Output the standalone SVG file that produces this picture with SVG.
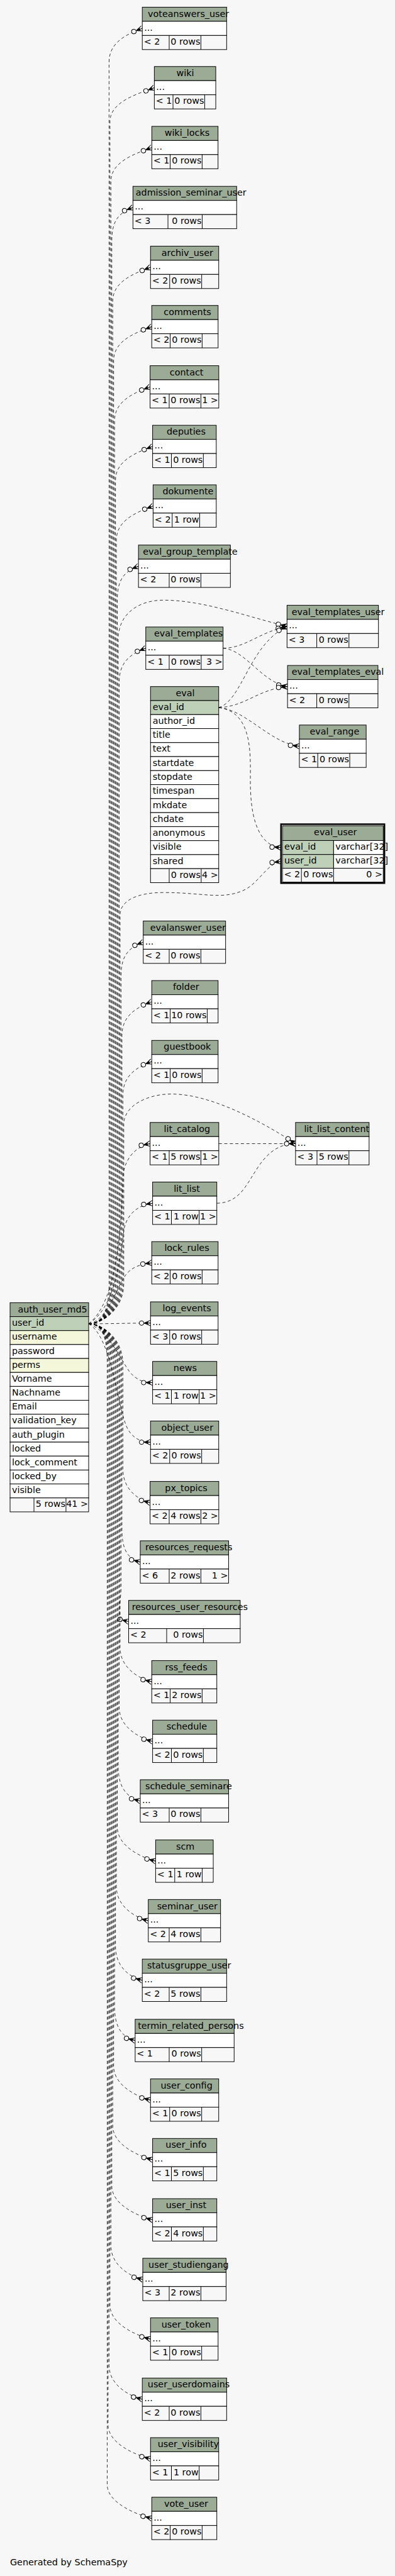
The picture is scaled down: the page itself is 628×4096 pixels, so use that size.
<svg xmlns="http://www.w3.org/2000/svg" width="628" height="4096" viewBox="0 0 628 4096">
<style>
.h{fill:#9bab96;stroke:#000;stroke-width:1}
.r{fill:#fff;stroke:#000;stroke-width:1}
.pk{fill:#bed1b8;stroke:#000;stroke-width:1}
.ix{fill:#f4f7da;stroke:#000;stroke-width:1}
.f{fill:#f7f7f7;stroke:#000;stroke-width:1}
.d{fill:none;stroke:#000;stroke-width:1}
text{font-family:"DejaVu Sans","Liberation Sans",sans-serif;font-size:14.67px;fill:#000}
.c{text-anchor:middle}
.e{text-anchor:end}
.l{fill:none;stroke:#000;stroke-width:0.8;stroke-dasharray:5,4;marker-end:url(#cf)}
</style>
<defs>
<marker id="cf" markerUnits="userSpaceOnUse" orient="auto" viewBox="-20 -7 22 14" markerWidth="22" markerHeight="14" refX="0" refY="0" overflow="visible">
<path d="M-10.5,0L0,-4.5M-10.5,0L0,4.5M-10.5,0L0,0" fill="none" stroke="#000" stroke-width="1"/>
<path d="M-10.5,0L-3,-2.8L-4.5,0L-3,2.8Z" fill="#000"/>
<circle cx="-14.6" cy="0" r="3.7" fill="#f7f7f7" stroke="#000" stroke-width="1"/>
</marker>
</defs>
<rect x="0" y="0" width="628" height="4096" fill="#f7f7f7"/>
<g transform="scale(0.97674)">
<g id="connectors">
<path class="l" d="M144.3,2155C168,2155 177.5,2130 177.5,2090L177.5,101.2C177.5,68.2 207.6,55.2 231.6,46.2"/>
<path class="l" d="M144.3,2155C168,2155 179,2130 179,2090L179,197.8C179,164.8 227.2,151.8 251.2,142.8"/>
<path class="l" d="M144.3,2155C168,2155 180.5,2130 180.5,2090L180.5,295.2C180.5,262.2 223.1,249.2 247.1,240.2"/>
<path class="l" d="M144.3,2155C168,2155 182,2130 182,2090L182,392.8C182,359.8 192.4,346.8 216.4,337.8"/>
<path class="l" d="M144.3,2155C168,2155 183.5,2130 183.5,2090L183.5,490.2C183.5,457.2 221,444.2 245,435.2"/>
<path class="l" d="M144.3,2155C168,2155 185,2130 185,2090L185,586.8C185,553.8 223,540.8 247,531.8"/>
<path class="l" d="M144.3,2155C168,2155 186.5,2130 186.5,2090L186.5,684.8C186.5,651.8 220.3,638.8 244.3,629.8"/>
<path class="l" d="M144.3,2155C168,2155 188,2130 188,2090L188,781.8C188,748.8 224.4,735.8 248.4,726.8"/>
<path class="l" d="M144.3,2155C168,2155 189.5,2130 189.5,2090L189.5,878.8C189.5,845.8 225.2,832.8 249.2,823.8"/>
<path class="l" d="M144.3,2155C168,2155 191,2130 191,2090L191,976.8C191,943.8 201.4,930.8 225.4,921.8"/>
<path class="l" d="M144.3,2155C168,2155 194,2130 194,2090L194,1110.2C194,1077.2 213.3,1064.2 237.3,1055.2"/>
<path class="l" d="M144.3,2155C168,2155 197,2130 197,2090L197,1588.8C197,1555.8 209.2,1542.8 233.2,1533.8"/>
<path class="l" d="M144.3,2155C168,2155 198.5,2130 198.5,2090L198.5,1685.8C198.5,1652.8 223,1639.8 247,1630.8"/>
<path class="l" d="M144.3,2155C168,2155 200,2130 200,2090L200,1783.2C200,1750.2 223,1737.2 247,1728.2"/>
<path class="l" d="M144.3,2155C190,2120 198,2000 200,1915C203,1885 222,1866 244.3,1861.8"/>
<path class="l" d="M144.3,2155C185,2130 195,2060 202,2000C208,1975 225,1962 248.4,1958.8"/>
<path class="l" d="M144.3,2155C175,2150 190,2095 205,2075C215,2062 230,2058 247,2055.8"/>
<path class="l" d="M144.3,2155C180,2155 210,2154 245,2153.8"/>
<path class="l" d="M144.3,2155C175,2165 195,2210 210,2232C220,2245 232,2250.8 248.4,2250.8"/>
<path class="l" d="M144.3,2155C180,2175 190,2280 205,2320C213,2340 228,2347.8 245,2347.8"/>
<path class="l" d="M144.3,2155C168,2155 200,2180 200,2220L200,2391.2C200,2421.2 220.3,2440.2 244.3,2446.2"/>
<path class="l" d="M144.3,2155C168,2155 198.5,2180 198.5,2220L198.5,2487.8C198.5,2517.8 204.3,2536.8 228.3,2542.8"/>
<path class="l" d="M144.3,2155C168,2155 197,2180 197,2220L197,2584.8C197,2614.8 185.4,2633.8 209.4,2639.8"/>
<path class="l" d="M144.3,2155C168,2155 195.5,2180 195.5,2220L195.5,2682.8C195.5,2712.8 223,2731.8 247,2737.8"/>
<path class="l" d="M144.3,2155C168,2155 194,2180 194,2220L194,2779.8C194,2809.8 224.4,2828.8 248.4,2834.8"/>
<path class="l" d="M144.3,2155C168,2155 192.5,2180 192.5,2220L192.5,2876.8C192.5,2906.8 204.3,2925.8 228.3,2931.8"/>
<path class="l" d="M144.3,2155C168,2155 191,2180 191,2220L191,2974.8C191,3004.8 229.3,3023.8 253.3,3029.8"/>
<path class="l" d="M144.3,2155C168,2155 189.5,2180 189.5,2220L189.5,3071.8C189.5,3101.8 217.4,3120.8 241.4,3126.8"/>
<path class="l" d="M144.3,2155C168,2155 188,2180 188,2220L188,3168.8C188,3198.8 207.6,3217.8 231.6,3223.8"/>
<path class="l" d="M144.3,2155C168,2155 186.5,2180 186.5,2220L186.5,3266.8C186.5,3296.8 196,3315.8 220,3321.8"/>
<path class="l" d="M144.3,2155C168,2155 185,2180 185,2220L185,3363.8C185,3393.8 221,3412.8 245,3418.8"/>
<path class="l" d="M144.3,2155C168,2155 183.5,2180 183.5,2220L183.5,3460.8C183.5,3490.8 224.4,3509.8 248.4,3515.8"/>
<path class="l" d="M144.3,2155C168,2155 182,2180 182,2220L182,3558.8C182,3588.8 224.4,3607.8 248.4,3613.8"/>
<path class="l" d="M144.3,2155C168,2155 180.5,2180 180.5,2220L180.5,3655.8C180.5,3685.8 208.4,3704.8 232.4,3710.8"/>
<path class="l" d="M144.3,2155C168,2155 179,2180 179,2220L179,3752.8C179,3782.8 221,3801.8 245,3807.8"/>
<path class="l" d="M144.3,2155C168,2155 177.5,2180 177.5,2220L177.5,3850.8C177.5,3880.8 207.6,3899.8 231.6,3905.8"/>
<path class="l" d="M144.3,2155C168,2155 176,2180 176,2220L176,3947.8C176,3977.8 221,3996.8 245,4002.8"/>
<path class="l" d="M144.3,2155C168,2155 174.5,2180 174.5,2220L174.5,4044.8C174.5,4074.8 223,4093.8 247,4099.8"/>
<path class="l" d="M144.3,2155C168,2155 192.5,2130 192.5,2090L192.5,1040C192.5,1000 225,977 266,977C330,977 400,1003 467.2,1019.8"/>
<path class="l" d="M144.3,2155C168,2155 195.5,2130 195.5,2090L195.5,1490C195.5,1465 225,1453 266,1453C330,1453 360,1465 395,1450C420,1440 435,1405 457.4,1402.3"/>
<path class="l" d="M144.3,2155C168,2155 201.5,2130 201.5,2090L201.5,1830C201.5,1800 240,1781 279,1781C350,1781 440,1835 481.1,1861.8"/>
<path class="l" d="M356.1,1861.8L481.1,1861.8"/>
<path class="l" d="M352.9,1958.8C390,1958 400,1930 420,1900C440,1870 460,1862 481.1,1861.8"/>
<path class="l" d="M363.1,1055.2C400,1055 420,1030 467.2,1019.8"/>
<path class="l" d="M363.1,1055.2C400,1058 425,1110 468,1117.8"/>
<path class="l" d="M356,1151.9C400,1150 420,1122 468,1117.8"/>
<path class="l" d="M356,1151.9C395,1140 405,1050 467.2,1019.8"/>
<path class="l" d="M356,1151.9C400,1155 440,1210 487.3,1214.8"/>
<path class="l" d="M356,1151.9C420,1160 405,1250 408,1290C410,1340 425,1378 457.4,1379.7"/>
</g>

<g id="voteanswers_user"><rect class="h" x="231.6" y="11.7" width="137.3" height="23"/><rect class="r" x="231.6" y="34.7" width="137.3" height="23"/><rect class="f" x="231.6" y="57.7" width="137.3" height="23"/><path class="d" d="M275.4,57.7v23M327,57.7v23"/><text class="c" x="306.8" y="27.2">voteanswers_user</text><text x="234.6" y="49.7">...</text><text x="234.1" y="72.7">&lt; 2</text><text class="e" x="326" y="72.7">0 rows</text></g>

<g id="wiki"><rect class="h" x="251.2" y="108.3" width="100" height="23"/><rect class="r" x="251.2" y="131.3" width="100" height="23"/><rect class="f" x="251.2" y="154.3" width="100" height="23"/><path class="d" d="M281.6,154.3v23M333.2,154.3v23"/><text class="c" x="301.5" y="123.8">wiki</text><text x="254.2" y="146.3">...</text><text x="253.7" y="169.3">&lt; 1</text><text class="e" x="332.2" y="169.3">0 rows</text></g>

<g id="wiki_locks"><rect class="h" x="247.1" y="205.7" width="107.8" height="23"/><rect class="r" x="247.1" y="228.7" width="107.8" height="23"/><rect class="f" x="247.1" y="251.7" width="107.8" height="23"/><path class="d" d="M277,251.7v23M329,251.7v23"/><text class="c" x="304.5" y="221.2">wiki_locks</text><text x="250.1" y="243.7">...</text><text x="249.6" y="266.7">&lt; 1</text><text class="e" x="328" y="266.7">0 rows</text></g>

<g id="admission_seminar_user"><rect class="h" x="216.4" y="303.3" width="168.8" height="23"/><rect class="r" x="216.4" y="326.3" width="168.8" height="23"/><rect class="f" x="216.4" y="349.3" width="168.8" height="23"/><path class="d" d="M273.4,349.3v23M329.1,349.3v23"/><text class="c" x="311" y="318.8">admission_seminar_user</text><text x="219.4" y="341.3">...</text><text x="218.9" y="364.3">&lt; 3</text><text class="e" x="328.1" y="364.3">0 rows</text></g>

<g id="archiv_user"><rect class="h" x="245" y="400.7" width="111" height="23"/><rect class="r" x="245" y="423.7" width="111" height="23"/><rect class="f" x="245" y="446.7" width="111" height="23"/><path class="d" d="M276.2,446.7v23M328.3,446.7v23"/><text class="c" x="305" y="416.2">archiv_user</text><text x="248" y="438.7">...</text><text x="247.5" y="461.7">&lt; 2</text><text class="e" x="327.3" y="461.7">0 rows</text></g>

<g id="comments"><rect class="h" x="247" y="497.3" width="108" height="23"/><rect class="r" x="247" y="520.3" width="108" height="23"/><rect class="f" x="247" y="543.3" width="108" height="23"/><path class="d" d="M277,543.3v23M329,543.3v23"/><text class="c" x="305.1" y="512.8">comments</text><text x="250" y="535.3">...</text><text x="249.5" y="558.3">&lt; 2</text><text class="e" x="328" y="558.3">0 rows</text></g>

<g id="contact"><rect class="h" x="244.3" y="595.3" width="111.8" height="23"/><rect class="r" x="244.3" y="618.3" width="111.8" height="23"/><rect class="f" x="244.3" y="641.3" width="111.8" height="23"/><path class="d" d="M275.4,641.3v23M327,641.3v23"/><text class="c" x="303.7" y="610.8">contact</text><text x="247.3" y="633.3">...</text><text x="246.8" y="656.3">&lt; 1</text><text class="e" x="326" y="656.3">0 rows</text><text class="e" x="355.1" y="656.3">1 &gt;</text></g>

<g id="deputies"><rect class="h" x="248.4" y="692.3" width="103.6" height="23"/><rect class="r" x="248.4" y="715.3" width="103.6" height="23"/><rect class="f" x="248.4" y="738.3" width="103.6" height="23"/><path class="d" d="M279,738.3v23M331,738.3v23"/><text class="c" x="303" y="707.8">deputies</text><text x="251.4" y="730.3">...</text><text x="250.9" y="753.3">&lt; 1</text><text class="e" x="330" y="753.3">0 rows</text></g>

<g id="dokumente"><rect class="h" x="249.2" y="789.3" width="102.8" height="23"/><rect class="r" x="249.2" y="812.3" width="102.8" height="23"/><rect class="f" x="249.2" y="835.3" width="102.8" height="23"/><path class="d" d="M280.3,835.3v23M325,835.3v23"/><text class="c" x="306" y="804.8">dokumente</text><text x="252.2" y="827.3">...</text><text x="251.7" y="850.3">&lt; 2</text><text class="e" x="324" y="850.3">1 row</text></g>

<g id="eval_group_template"><rect class="h" x="225.4" y="887.3" width="149.6" height="23"/><rect class="r" x="225.4" y="910.3" width="149.6" height="23"/><rect class="f" x="225.4" y="933.3" width="149.6" height="23"/><path class="d" d="M275.4,933.3v23M327,933.3v23"/><text class="c" x="309.6" y="902.8">eval_group_template</text><text x="228.4" y="925.3">...</text><text x="227.9" y="948.3">&lt; 2</text><text class="e" x="326" y="948.3">0 rows</text></g>

<g id="eval_templates"><rect class="h" x="237.3" y="1020.7" width="125.8" height="23"/><rect class="r" x="237.3" y="1043.7" width="125.8" height="23"/><rect class="f" x="237.3" y="1066.7" width="125.8" height="23"/><path class="d" d="M275.4,1066.7v23M327.5,1066.7v23"/><text class="c" x="306.7" y="1036.2">eval_templates</text><text x="240.3" y="1058.7">...</text><text x="239.8" y="1081.7">&lt; 1</text><text class="e" x="326.5" y="1081.7">0 rows</text><text class="e" x="362.1" y="1081.7">3 &gt;</text></g>

<g id="eval">
<rect class="h" x="245" y="1117.7" width="111" height="22.8"/>
<rect class="pk" x="245" y="1140.5" width="111" height="22.8"/>
<rect class="r" x="245" y="1163.3" width="111" height="22.8"/>
<rect class="r" x="245" y="1186.1" width="111" height="22.8"/>
<rect class="r" x="245" y="1208.9" width="111" height="22.8"/>
<rect class="r" x="245" y="1231.7" width="111" height="22.8"/>
<rect class="r" x="245" y="1254.5" width="111" height="22.8"/>
<rect class="r" x="245" y="1277.3" width="111" height="22.8"/>
<rect class="r" x="245" y="1300.1" width="111" height="22.8"/>
<rect class="r" x="245" y="1322.9" width="111" height="22.8"/>
<rect class="r" x="245" y="1345.7" width="111" height="22.8"/>
<rect class="r" x="245" y="1368.5" width="111" height="22.8"/>
<rect class="r" x="245" y="1391.3" width="111" height="22.8"/>
<rect class="f" x="245" y="1414.1" width="111" height="22.8"/>
<path class="d" d="M275.4,1414.1v22.8M327.5,1414.1v22.8"/>
<text class="c" x="301.5" y="1133.2">eval</text>
<text x="248.5" y="1155.5">eval_id</text>
<text x="248.5" y="1178.3">author_id</text>
<text x="248.5" y="1201.1">title</text>
<text x="248.5" y="1223.9">text</text>
<text x="248.5" y="1246.7">startdate</text>
<text x="248.5" y="1269.5">stopdate</text>
<text x="248.5" y="1292.3">timespan</text>
<text x="248.5" y="1315.1">mkdate</text>
<text x="248.5" y="1337.9">chdate</text>
<text x="248.5" y="1360.7">anonymous</text>
<text x="248.5" y="1383.5">visible</text>
<text x="248.5" y="1406.3">shared</text>
<text class="e" x="326.5" y="1429.1">0 rows</text>
<text class="e" x="355" y="1429.1">4 &gt;</text>
</g>

<g id="evalanswer_user"><rect class="h" x="233.2" y="1499.3" width="134" height="23"/><rect class="r" x="233.2" y="1522.3" width="134" height="23"/><rect class="f" x="233.2" y="1545.3" width="134" height="23"/><path class="d" d="M275.4,1545.3v23M327,1545.3v23"/><text class="c" x="305.9" y="1514.8">evalanswer_user</text><text x="236.2" y="1537.3">...</text><text x="235.7" y="1560.3">&lt; 2</text><text class="e" x="326" y="1560.3">0 rows</text></g>

<g id="folder"><rect class="h" x="247" y="1596.3" width="108" height="23"/><rect class="r" x="247" y="1619.3" width="108" height="23"/><rect class="f" x="247" y="1642.3" width="108" height="23"/><path class="d" d="M277,1642.3v23M337.3,1642.3v23"/><text class="c" x="302.9" y="1611.8">folder</text><text x="250" y="1634.3">...</text><text x="249.5" y="1657.3">&lt; 1</text><text class="e" x="336.3" y="1657.3">10 rows</text></g>

<g id="guestbook"><rect class="h" x="247" y="1693.7" width="108" height="23"/><rect class="r" x="247" y="1716.7" width="108" height="23"/><rect class="f" x="247" y="1739.7" width="108" height="23"/><path class="d" d="M277,1739.7v23M329,1739.7v23"/><text class="c" x="304.9" y="1709.2">guestbook</text><text x="250" y="1731.7">...</text><text x="249.5" y="1754.7">&lt; 1</text><text class="e" x="328" y="1754.7">0 rows</text></g>

<g id="lit_catalog"><rect class="h" x="244.3" y="1827.3" width="111.8" height="23"/><rect class="r" x="244.3" y="1850.3" width="111.8" height="23"/><rect class="f" x="244.3" y="1873.3" width="111.8" height="23"/><path class="d" d="M275.4,1873.3v23M327,1873.3v23"/><text class="c" x="304.3" y="1842.8">lit_catalog</text><text x="247.3" y="1865.3">...</text><text x="246.8" y="1888.3">&lt; 1</text><text class="e" x="326" y="1888.3">5 rows</text><text class="e" x="355.1" y="1888.3">1 &gt;</text></g>

<g id="lit_list"><rect class="h" x="248.4" y="1924.3" width="104.5" height="23"/><rect class="r" x="248.4" y="1947.3" width="104.5" height="23"/><rect class="f" x="248.4" y="1970.3" width="104.5" height="23"/><path class="d" d="M279,1970.3v23M324.2,1970.3v23"/><text class="c" x="304.1" y="1939.8">lit_list</text><text x="251.4" y="1962.3">...</text><text x="250.9" y="1985.3">&lt; 1</text><text class="e" x="323.2" y="1985.3">1 row</text><text class="e" x="351.9" y="1985.3">1 &gt;</text></g>

<g id="lock_rules"><rect class="h" x="247" y="2021.3" width="108" height="23"/><rect class="r" x="247" y="2044.3" width="108" height="23"/><rect class="f" x="247" y="2067.3" width="108" height="23"/><path class="d" d="M277,2067.3v23M329,2067.3v23"/><text class="c" x="304.1" y="2036.8">lock_rules</text><text x="250" y="2059.3">...</text><text x="249.5" y="2082.3">&lt; 2</text><text class="e" x="328" y="2082.3">0 rows</text></g>

<g id="log_events"><rect class="h" x="245" y="2119.3" width="110" height="23"/><rect class="r" x="245" y="2142.3" width="110" height="23"/><rect class="f" x="245" y="2165.3" width="110" height="23"/><path class="d" d="M276.2,2165.3v23M328.3,2165.3v23"/><text class="c" x="304.1" y="2134.8">log_events</text><text x="248" y="2157.3">...</text><text x="247.5" y="2180.3">&lt; 3</text><text class="e" x="327.3" y="2180.3">0 rows</text></g>

<g id="news"><rect class="h" x="248.4" y="2216.3" width="104.5" height="23"/><rect class="r" x="248.4" y="2239.3" width="104.5" height="23"/><rect class="f" x="248.4" y="2262.3" width="104.5" height="23"/><path class="d" d="M279,2262.3v23M324.2,2262.3v23"/><text class="c" x="301.4" y="2231.8">news</text><text x="251.4" y="2254.3">...</text><text x="250.9" y="2277.3">&lt; 1</text><text class="e" x="323.2" y="2277.3">1 row</text><text class="e" x="351.9" y="2277.3">1 &gt;</text></g>

<g id="object_user"><rect class="h" x="245" y="2313.3" width="111" height="23"/><rect class="r" x="245" y="2336.3" width="111" height="23"/><rect class="f" x="245" y="2359.3" width="111" height="23"/><path class="d" d="M276.2,2359.3v23M328.3,2359.3v23"/><text class="c" x="304.9" y="2328.8">object_user</text><text x="248" y="2351.3">...</text><text x="247.5" y="2374.3">&lt; 2</text><text class="e" x="327.3" y="2374.3">0 rows</text></g>

<g id="px_topics"><rect class="h" x="244.3" y="2411.7" width="111.8" height="23"/><rect class="r" x="244.3" y="2434.7" width="111.8" height="23"/><rect class="f" x="244.3" y="2457.7" width="111.8" height="23"/><path class="d" d="M275.4,2457.7v23M327,2457.7v23"/><text class="c" x="303.1" y="2427.2">px_topics</text><text x="247.3" y="2449.7">...</text><text x="246.8" y="2472.7">&lt; 2</text><text class="e" x="326" y="2472.7">4 rows</text><text class="e" x="355.1" y="2472.7">2 &gt;</text></g>

<g id="resources_requests"><rect class="h" x="228.3" y="2508.3" width="143.8" height="23"/><rect class="r" x="228.3" y="2531.3" width="143.8" height="23"/><rect class="f" x="228.3" y="2554.3" width="143.8" height="23"/><path class="d" d="M275.4,2554.3v23M327,2554.3v23"/><text class="c" x="307.4" y="2523.8">resources_requests</text><text x="231.3" y="2546.3">...</text><text x="230.8" y="2569.3">&lt; 6</text><text class="e" x="326" y="2569.3">2 rows</text><text class="e" x="371.1" y="2569.3">1 &gt;</text></g>

<g id="resources_user_resources"><rect class="h" x="209.4" y="2605.3" width="181.6" height="23"/><rect class="r" x="209.4" y="2628.3" width="181.6" height="23"/><rect class="f" x="209.4" y="2651.3" width="181.6" height="23"/><path class="d" d="M271.3,2651.3v23M331.1,2651.3v23"/><text class="c" x="309" y="2620.8">resources_user_resources</text><text x="212.4" y="2643.3">...</text><text x="211.9" y="2666.3">&lt; 2</text><text class="e" x="330.1" y="2666.3">0 rows</text></g>

<g id="rss_feeds"><rect class="h" x="247" y="2703.3" width="105.9" height="23"/><rect class="r" x="247" y="2726.3" width="105.9" height="23"/><rect class="f" x="247" y="2749.3" width="105.9" height="23"/><path class="d" d="M277,2749.3v23M329,2749.3v23"/><text class="c" x="303.1" y="2718.8">rss_feeds</text><text x="250" y="2741.3">...</text><text x="249.5" y="2764.3">&lt; 1</text><text class="e" x="328" y="2764.3">2 rows</text></g>

<g id="schedule"><rect class="h" x="248.4" y="2800.3" width="104.5" height="23"/><rect class="r" x="248.4" y="2823.3" width="104.5" height="23"/><rect class="f" x="248.4" y="2846.3" width="104.5" height="23"/><path class="d" d="M279,2846.3v23M331,2846.3v23"/><text class="c" x="304" y="2815.8">schedule</text><text x="251.4" y="2838.3">...</text><text x="250.9" y="2861.3">&lt; 2</text><text class="e" x="330" y="2861.3">0 rows</text></g>

<g id="schedule_seminare"><rect class="h" x="228.3" y="2897.3" width="143.8" height="23"/><rect class="r" x="228.3" y="2920.3" width="143.8" height="23"/><rect class="f" x="228.3" y="2943.3" width="143.8" height="23"/><path class="d" d="M275.4,2943.3v23M327,2943.3v23"/><text class="c" x="307" y="2912.8">schedule_seminare</text><text x="231.3" y="2935.3">...</text><text x="230.8" y="2958.3">&lt; 3</text><text class="e" x="326" y="2958.3">0 rows</text></g>

<g id="scm"><rect class="h" x="253.3" y="2995.3" width="93.8" height="23"/><rect class="r" x="253.3" y="3018.3" width="93.8" height="23"/><rect class="f" x="253.3" y="3041.3" width="93.8" height="23"/><path class="d" d="M284.4,3041.3v23M329.1,3041.3v23"/><text class="c" x="301.6" y="3010.8">scm</text><text x="256.3" y="3033.3">...</text><text x="255.8" y="3056.3">&lt; 1</text><text class="e" x="328.1" y="3056.3">1 row</text></g>

<g id="seminar_user"><rect class="h" x="241.4" y="3092.3" width="117.6" height="23"/><rect class="r" x="241.4" y="3115.3" width="117.6" height="23"/><rect class="f" x="241.4" y="3138.3" width="117.6" height="23"/><path class="d" d="M275.4,3138.3v23M327,3138.3v23"/><text class="c" x="304.9" y="3107.8">seminar_user</text><text x="244.4" y="3130.3">...</text><text x="243.9" y="3153.3">&lt; 2</text><text class="e" x="326" y="3153.3">4 rows</text></g>

<g id="statusgruppe_user"><rect class="h" x="231.6" y="3189.3" width="137.3" height="23"/><rect class="r" x="231.6" y="3212.3" width="137.3" height="23"/><rect class="f" x="231.6" y="3235.3" width="137.3" height="23"/><path class="d" d="M275.4,3235.3v23M327,3235.3v23"/><text class="c" x="307.8" y="3204.8">statusgruppe_user</text><text x="234.6" y="3227.3">...</text><text x="234.1" y="3250.3">&lt; 2</text><text class="e" x="326" y="3250.3">5 rows</text></g>

<g id="termin_related_persons"><rect class="h" x="220" y="3287.3" width="161.1" height="23"/><rect class="r" x="220" y="3310.3" width="161.1" height="23"/><rect class="f" x="220" y="3333.3" width="161.1" height="23"/><path class="d" d="M275.4,3333.3v23M328.3,3333.3v23"/><text class="c" x="310.6" y="3302.8">termin_related_persons</text><text x="223" y="3325.3">...</text><text x="222.5" y="3348.3">&lt; 1</text><text class="e" x="327.3" y="3348.3">0 rows</text></g>

<g id="user_config"><rect class="h" x="245" y="3384.3" width="111" height="23"/><rect class="r" x="245" y="3407.3" width="111" height="23"/><rect class="f" x="245" y="3430.3" width="111" height="23"/><path class="d" d="M276.2,3430.3v23M328.3,3430.3v23"/><text class="c" x="303.7" y="3399.8">user_config</text><text x="248" y="3422.3">...</text><text x="247.5" y="3445.3">&lt; 1</text><text class="e" x="327.3" y="3445.3">0 rows</text></g>

<g id="user_info"><rect class="h" x="248.4" y="3481.3" width="104.5" height="23"/><rect class="r" x="248.4" y="3504.3" width="104.5" height="23"/><rect class="f" x="248.4" y="3527.3" width="104.5" height="23"/><path class="d" d="M279,3527.3v23M331,3527.3v23"/><text class="c" x="303" y="3496.8">user_info</text><text x="251.4" y="3519.3">...</text><text x="250.9" y="3542.3">&lt; 1</text><text class="e" x="330" y="3542.3">5 rows</text></g>

<g id="user_inst"><rect class="h" x="248.4" y="3579.3" width="104.5" height="23"/><rect class="r" x="248.4" y="3602.3" width="104.5" height="23"/><rect class="f" x="248.4" y="3625.3" width="104.5" height="23"/><path class="d" d="M279,3625.3v23M331,3625.3v23"/><text class="c" x="303" y="3594.8">user_inst</text><text x="251.4" y="3617.3">...</text><text x="250.9" y="3640.3">&lt; 2</text><text class="e" x="330" y="3640.3">4 rows</text></g>

<g id="user_studiengang"><rect class="h" x="232.4" y="3676.3" width="135.6" height="23"/><rect class="r" x="232.4" y="3699.3" width="135.6" height="23"/><rect class="f" x="232.4" y="3722.3" width="135.6" height="23"/><path class="d" d="M275.4,3722.3v23M327,3722.3v23"/><text class="c" x="307" y="3691.8">user_studiengang</text><text x="235.4" y="3714.3">...</text><text x="234.9" y="3737.3">&lt; 3</text><text class="e" x="326" y="3737.3">2 rows</text></g>

<g id="user_token"><rect class="h" x="245" y="3773.3" width="110" height="23"/><rect class="r" x="245" y="3796.3" width="110" height="23"/><rect class="f" x="245" y="3819.3" width="110" height="23"/><path class="d" d="M276.2,3819.3v23M328.3,3819.3v23"/><text class="c" x="303" y="3788.8">user_token</text><text x="248" y="3811.3">...</text><text x="247.5" y="3834.3">&lt; 1</text><text class="e" x="327.3" y="3834.3">0 rows</text></g>

<g id="user_userdomains"><rect class="h" x="231.6" y="3871.3" width="137.3" height="23"/><rect class="r" x="231.6" y="3894.3" width="137.3" height="23"/><rect class="f" x="231.6" y="3917.3" width="137.3" height="23"/><path class="d" d="M275.4,3917.3v23M327,3917.3v23"/><text class="c" x="307.2" y="3886.8">user_userdomains</text><text x="234.6" y="3909.3">...</text><text x="234.1" y="3932.3">&lt; 2</text><text class="e" x="326" y="3932.3">0 rows</text></g>

<g id="user_visibility"><rect class="h" x="245" y="3968.3" width="111" height="23"/><rect class="r" x="245" y="3991.3" width="111" height="23"/><rect class="f" x="245" y="4014.3" width="111" height="23"/><path class="d" d="M279,4014.3v23M324.2,4014.3v23"/><text class="c" x="306.5" y="3983.8">user_visibility</text><text x="248" y="4006.3">...</text><text x="247.5" y="4029.3">&lt; 1</text><text class="e" x="323.2" y="4029.3">1 row</text></g>

<g id="vote_user"><rect class="h" x="247" y="4065.3" width="105.9" height="23"/><rect class="r" x="247" y="4088.3" width="105.9" height="23"/><rect class="f" x="247" y="4111.3" width="105.9" height="23"/><path class="d" d="M277,4111.3v23M329,4111.3v23"/><text class="c" x="303" y="4080.8">vote_user</text><text x="250" y="4103.3">...</text><text x="249.5" y="4126.3">&lt; 2</text><text class="e" x="328" y="4126.3">0 rows</text></g>

<g id="eval_templates_user"><rect class="h" x="467.2" y="985.3" width="148.8" height="23"/><rect class="r" x="467.2" y="1008.3" width="148.8" height="23"/><rect class="f" x="467.2" y="1031.3" width="148.8" height="23"/><path class="d" d="M515.6,1031.3v23M568,1031.3v23"/><text class="c" x="550.4" y="1000.8">eval_templates_user</text><text x="470.2" y="1023.3">...</text><text x="469.7" y="1046.3">&lt; 3</text><text class="e" x="567" y="1046.3">0 rows</text></g>

<g id="eval_templates_eval"><rect class="h" x="468" y="1083.3" width="147.2" height="23"/><rect class="r" x="468" y="1106.3" width="147.2" height="23"/><rect class="f" x="468" y="1129.3" width="147.2" height="23"/><path class="d" d="M515.6,1129.3v23M568,1129.3v23"/><text class="c" x="549.8" y="1098.8">eval_templates_eval</text><text x="471" y="1121.3">...</text><text x="470.5" y="1144.3">&lt; 2</text><text class="e" x="567" y="1144.3">0 rows</text></g>

<g id="eval_range"><rect class="h" x="487.3" y="1180.3" width="108.7" height="23"/><rect class="r" x="487.3" y="1203.3" width="108.7" height="23"/><rect class="f" x="487.3" y="1226.3" width="108.7" height="23"/><path class="d" d="M517.2,1226.3v23M569.3,1226.3v23"/><text class="c" x="544.5" y="1195.8">eval_range</text><text x="490.3" y="1218.3">...</text><text x="489.8" y="1241.3">&lt; 1</text><text class="e" x="568.3" y="1241.3">0 rows</text></g>

<g id="eval_user">
<rect class="h" x="459.8" y="1344.3" width="164" height="24"/>
<rect class="pk" x="459.8" y="1368.3" width="83.2" height="22.8"/>
<rect class="r" x="543" y="1368.3" width="80.8" height="22.8"/>
<rect class="pk" x="459.8" y="1391.1" width="83.2" height="22.4"/>
<rect class="r" x="543" y="1391.1" width="80.8" height="22.4"/>
<rect class="f" x="459.8" y="1413.5" width="164" height="22.5"/>
<path class="d" d="M490.6,1413.5v22.5M543,1413.5v22.5"/>
<rect x="457.4" y="1341.7" width="168.4" height="96" fill="none" stroke="#000" stroke-width="2.5"/>
<text class="c" x="546" y="1359.8">eval_user</text>
<text x="462.8" y="1383.3">eval_id</text>
<text x="546" y="1383.3">varchar[32]</text>
<text x="462.8" y="1406">user_id</text>
<text x="546" y="1406">varchar[32]</text>
<text x="462.3" y="1428.6">&lt; 2</text>
<text class="e" x="542" y="1428.6">0 rows</text>
<text class="e" x="622.5" y="1428.6">0 &gt;</text>
</g>

<g id="lit_list_content"><rect class="h" x="481.1" y="1827.3" width="119.7" height="23"/><rect class="r" x="481.1" y="1850.3" width="119.7" height="23"/><rect class="f" x="481.1" y="1873.3" width="119.7" height="23"/><path class="d" d="M516,1873.3v23M568,1873.3v23"/><text class="c" x="548" y="1842.8">lit_list_content</text><text x="484.1" y="1865.3">...</text><text x="483.6" y="1888.3">&lt; 3</text><text class="e" x="567" y="1888.3">5 rows</text></g>

<g id="auth_user_md5">
<rect class="h" x="16.4" y="2120.7" width="127.9" height="22.7"/>
<rect class="pk" x="16.4" y="2143.4" width="127.9" height="22.7"/>
<rect class="ix" x="16.4" y="2166.1" width="127.9" height="22.7"/>
<rect class="r" x="16.4" y="2188.8" width="127.9" height="22.7"/>
<rect class="ix" x="16.4" y="2211.5" width="127.9" height="22.7"/>
<rect class="r" x="16.4" y="2234.2" width="127.9" height="22.7"/>
<rect class="r" x="16.4" y="2256.9" width="127.9" height="22.7"/>
<rect class="r" x="16.4" y="2279.6" width="127.9" height="22.7"/>
<rect class="r" x="16.4" y="2302.3" width="127.9" height="22.7"/>
<rect class="r" x="16.4" y="2325" width="127.9" height="22.7"/>
<rect class="r" x="16.4" y="2347.7" width="127.9" height="22.7"/>
<rect class="r" x="16.4" y="2370.4" width="127.9" height="22.7"/>
<rect class="r" x="16.4" y="2393.1" width="127.9" height="22.7"/>
<rect class="r" x="16.4" y="2415.8" width="127.9" height="22.7"/>
<rect class="f" x="16.4" y="2438.5" width="127.9" height="22.7"/>
<path class="d" d="M55.3,2438.5v22.7M107.4,2438.5v22.7"/>
<text class="c" x="85.5" y="2136.2">auth_user_md5</text>
<text x="19.4" y="2158.4">user_id</text>
<text x="19.4" y="2181.1">username</text>
<text x="19.4" y="2203.8">password</text>
<text x="19.4" y="2226.5">perms</text>
<text x="19.4" y="2249.2">Vorname</text>
<text x="19.4" y="2271.9">Nachname</text>
<text x="19.4" y="2294.6">Email</text>
<text x="19.4" y="2317.3">validation_key</text>
<text x="19.4" y="2340">auth_plugin</text>
<text x="19.4" y="2362.7">locked</text>
<text x="19.4" y="2385.4">lock_comment</text>
<text x="19.4" y="2408.1">locked_by</text>
<text x="19.4" y="2430.8">visible</text>
<text class="e" x="106.4" y="2453.5">5 rows</text>
<text class="e" x="143.3" y="2453.5">41 &gt;</text>
</g>

<text x="16.4" y="4176">Generated by SchemaSpy</text>
</g>
</svg>
